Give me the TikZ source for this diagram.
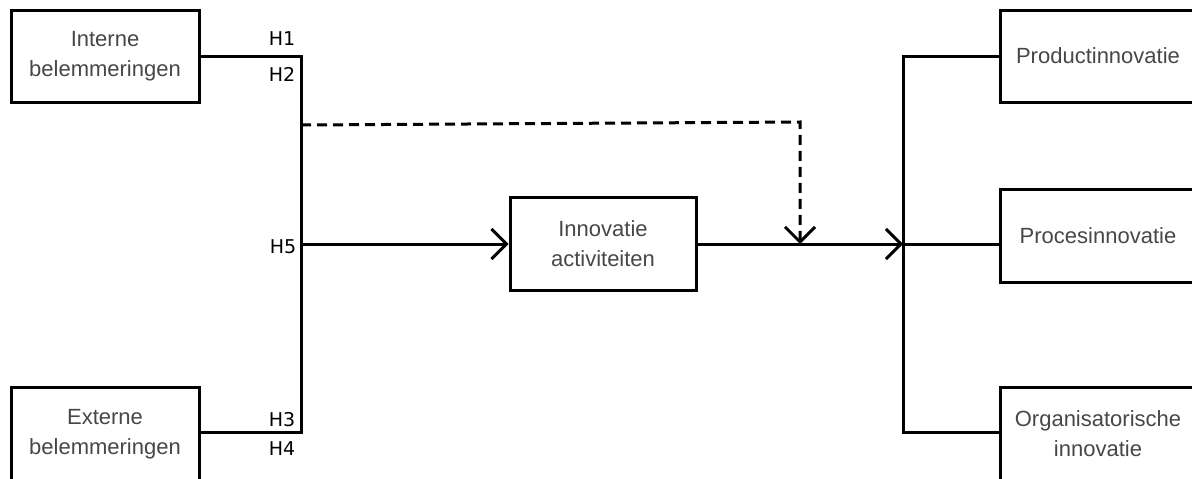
\documentclass[tikz,border=0pt]{standalone}
\usepackage{fontspec}
\setmainfont{Liberation Sans}
\newfontfamily\hypfont{DejaVu Sans}
\usetikzlibrary{arrows.meta}

\begin{document}
\begin{tikzpicture}[x=1pt,y=-1pt,
  blok/.style={draw, line width=3pt, minimum width=188pt, minimum height=92pt,
    align=center, text=black!72, font=\fontsize{22}{30}\selectfont, inner sep=0pt},
  lijn/.style={line width=3pt},
  pijl/.style={lijn, -{Straight Barb[length=15pt,width=30pt]}},
  hyp/.style={font=\hypfont\fontsize{19}{20}\selectfont, inner sep=0pt}]
	  \useasboundingbox (0,0) rectangle (1192,479);
	  \clip (0,0) rectangle (1192,479);
	  % linker kant
	  \node [blok] (intern) at (105,56) {Interne\\belemmeringen};
	  \node [blok, minimum height=94pt] (extern) at (105,434) {Externe\\belemmeringen};
	  \node [blok, minimum width=186pt, minimum height=93pt] (activ) at (603,244) {Innovatie\\activiteiten};
	  % rechter kant
	  \node [blok, minimum width=196pt] (prod) at (1098,56) {Productinnovatie};
	  \node [blok, minimum width=196pt, minimum height=93pt] (proc) at (1098,236) {Procesinnovatie};
	  \node [blok, minimum width=196pt, minimum height=94pt] (org) at (1098,434) {Organisatorische\\innovatie};
	  \coordinate (lt) at (301,56);
	  \coordinate (lb) at (301,432);
	  \coordinate (rt) at (903,56);
	  \coordinate (rb) at (903,432);
	  \coordinate (d0) at (301,125);
	  \coordinate (d1) at (800,122);
	  \draw [lijn] (intern.east) -- (lt) -- (lb) -- (extern.east |- lb);
	  \draw [pijl] (lt |- activ.west) -- (activ.west);
	  \draw [pijl] (activ.east) -- (rt |- activ.east);
	  \draw [pijl, dash pattern=on 10pt off 6pt] (d0) -- (d1) -- (d1 |- activ.east);
	  \draw [lijn] (prod.west) -- (rt) -- (rb) -- (org.west |- rb);
	  \draw [lijn] (rt |- activ.east) -- (proc.west |- activ.east);
	  % hypothesen
	  \node [hyp] (h1) at (282,39) {H1};
	  \node [hyp] (h2) at (282,74) {H2};
	  \node [hyp] (h5) at (283,247) {H5};
	  \node [hyp] (h3) at (282,420) {H3};
	  \node [hyp] (h4) at (282,449) {H4};
	 \end{tikzpicture}
\end{document}
